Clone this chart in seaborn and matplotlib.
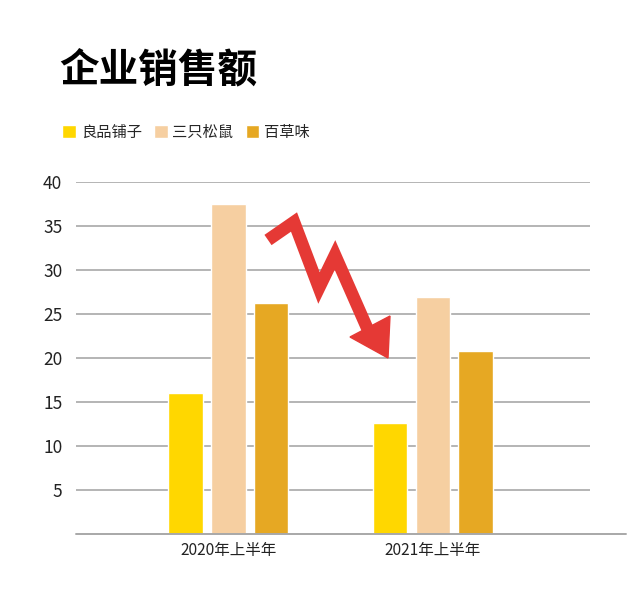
import pandas as pd
import seaborn as sns
import matplotlib.pyplot as plt
from matplotlib.patches import Polygon

# 数据
periods = ['2020年上半年', '2021年上半年']
brands = ['良品铺子', '三只松鼠', '百草味']
liangpin = [16.0, 12.6]
songshu = [37.5, 26.9]
baicao = [26.2, 20.8]
colors = ['#FFD700', '#F6CFA1', '#E6A823']

df = pd.DataFrame({
    'period': periods * 3,
    'brand': [b for b in brands for _ in periods],
    'value': liangpin + songshu + baicao,
})

sns.set_style('white')
plt.rcParams['font.family'] = ['Noto Sans CJK SC', 'DejaVu Sans']

fig = plt.figure(figsize=(6.4, 5.93), dpi=100)
ax = fig.add_axes([0.119, 0.0995, 0.803, 0.5935])

sns.barplot(data=df, x='period', y='value', hue='brand', palette=colors,
            saturation=1, width=0.63, gap=0.2, ax=ax, legend=True)

ax.set_ylim(0, 40)
ax.set_xlim(-0.745, 1.77)
ax.set_yticks(range(5, 45, 5))
ax.yaxis.grid(True, color='#A8A8A8', linewidth=1.2)
ax.set_axisbelow(True)
ax.axhline(0, xmin=0, xmax=1.07, color='#A8A8A8', linewidth=1.4, clip_on=False)
for s in ax.spines.values():
    s.set_visible(False)
ax.set_xlabel('')
ax.set_ylabel('')
ax.tick_params(axis='y', length=0, pad=10, labelsize=12.5, labelcolor='#222222')
ax.tick_params(axis='x', length=0, pad=6, labelsize=11.2, labelcolor='#222222')

# 图例
handles, labels = ax.get_legend_handles_labels()
ax.get_legend().remove()
fig.legend(handles, labels, loc='upper left', bbox_to_anchor=(0.088, 0.802),
           ncol=3, frameon=False, fontsize=11, handlelength=0.9, handleheight=0.9,
           handletextpad=0.3, columnspacing=0.8, borderaxespad=0)

# 标题
fig.text(0.092, 0.882, '企业销售额', fontsize=28.5, fontweight='black',
         ha='left', va='center', color='#000000')

# 红色下降箭头 (装饰)
def px(x, y):
    return (x / 640, 1 - y / 593)

zig = [px(268, 240), px(294, 222), px(319, 288), px(335, 255), px(368, 330)]
xs, ys = zip(*zig)
fig.add_artist(plt.Line2D(xs, ys, transform=fig.transFigure, color='#E53935',
                          linewidth=9, solid_joinstyle='miter', solid_capstyle='butt'))
head = Polygon([px(350, 337), px(390, 316), px(388, 358)], closed=True,
               transform=fig.transFigure, color='#E53935')
fig.add_artist(head)

fig.savefig('out.png', dpi=100)
